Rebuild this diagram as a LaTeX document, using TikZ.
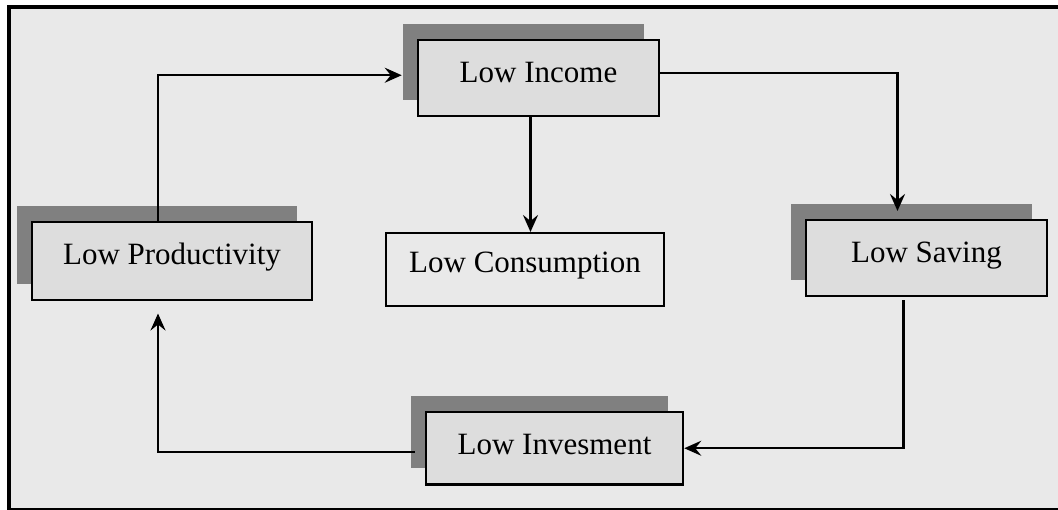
\documentclass[tikz,border=0pt]{standalone}
\usepackage{fontspec}
\setmainfont{Liberation Serif}
\usetikzlibrary{arrows.meta, shadows}
\definecolor{panelgray}{HTML}{E9E9E9}
\definecolor{boxgray}{HTML}{DDDDDD}
\definecolor{shadegray}{HTML}{808080}
\tikzstyle{vicious}=[x=1pt, y=-1pt, line width=2.5pt,
                     >={Stealth[length=17pt,width=15pt,inset=6pt]},
                     font=\fontsize{31}{36}\selectfont]
\tikzstyle{trap}=[draw, inner sep=0pt, anchor=north,
                  text height=42pt, text depth=34pt]
\tikzstyle{shaded}=[fill=boxgray, drop shadow={shadow xshift=-15pt,
                    shadow yshift=16pt, fill=shadegray, opacity=1}]

\begin{document}
\begin{tikzpicture}[vicious]
  \useasboundingbox (0,0) rectangle (1058,510);
  \fill[panelgray] (9,7) rectangle (1058,510);
  \draw[line width=4pt] (1058,7) -- (9,7) -- (9,510);
  \draw (9,509) -- (1058,509);
  \node[trap,shaded,minimum width=241pt] (inc) at (538.5,39) {Low Income};
  \node[trap,shaded,minimum width=280pt,text depth=36pt] (prod) at (172,221) {Low Productivity};
  \node[trap,shaded,minimum width=241pt] (sav) at (926.5,219) {Low Saving};
  \node[trap,shaded,minimum width=257pt,text depth=30pt] (inv) at (554.5,411) {Low Invesment};
  \node[trap,minimum width=278pt,text height=39pt] (con) at (525,232) {Low Consumption};
  \draw[->] ([xshift=-14pt]prod.north) |- ([shift={(-15pt,3pt)}]inc.west);
  \draw[->] ([yshift=5pt]inc.east) -| ([shift={(-29pt,8pt)}]sav.north);
  \path[->] ([xshift=-8pt]inc.south) edge ([xshift=-8pt]inc.south |- con.north);
  \draw[->] ([shift={(-23pt,-3pt)}]sav.south) |- (inv.east);
  \draw[->] ([shift={(-10pt,-4pt)}]inv.west) -| ([shift={(-14pt,-12pt)}]prod.south);
\end{tikzpicture}
\end{document}
